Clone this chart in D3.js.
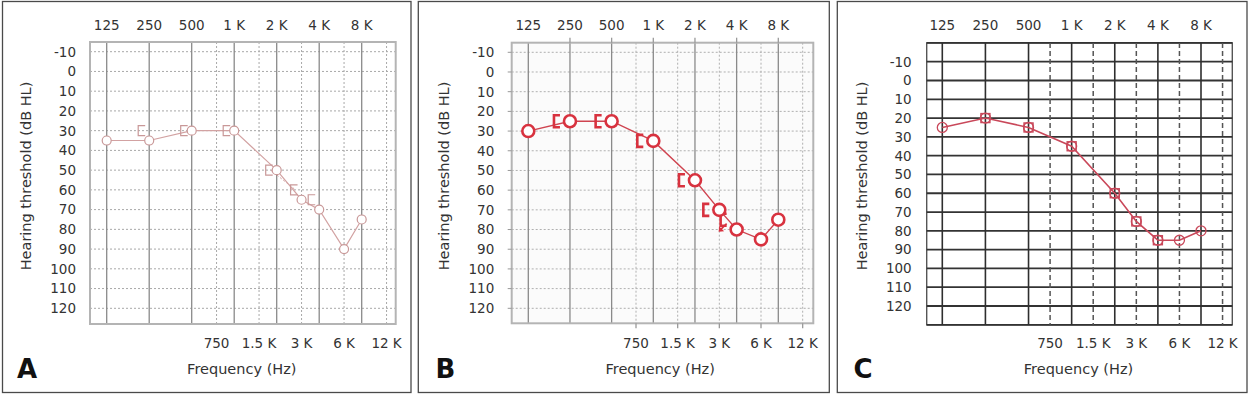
<!DOCTYPE html>
<html><head><meta charset="utf-8">
<script src="https://cdn.jsdelivr.net/npm/d3@7"></script>
<style>body{margin:0;background:#fff}svg{display:block}text{font-family:"DejaVu Sans",sans-serif}</style>
</head><body>
<svg id="chart" width="1249" height="395"></svg>
<script>
// ---- data ----
const octaveFreqs = [125, 250, 500, 1000, 2000, 4000, 8000];
const octaveLabels = ["125", "250", "500", "1 K", "2 K", "4 K", "8 K"];
const midFreqs = [750, 1500, 3000, 6000, 12000];
const midLabels = ["750", "1.5 K", "3 K", "6 K", "12 K"];
const dbTicks = [-10, 0, 10, 20, 30, 40, 50, 60, 70, 80, 90, 100, 110, 120];
const testFreqs = [125, 250, 500, 1000, 2000, 3000, 4000, 6000, 8000];
const boneFreqs = [250, 500, 1000, 2000, 3000, 4000];
const airA = [35, 35, 30, 30, 50, 65, 70, 90, 75];
const boneA = [30, 30, 30, 50, 60, 65];
const airB = [30, 25, 25, 35, 55, 70, 80, 85, 75];
const boneB = [25, 25, 35, 55, 70, 75];
const airC = [25, 20, 25, 35, 60, 75, 85, 85, 80];
const boneC = [20, 25, 35, 60, 75, 85];
const panelLetters = ["A", "B", "C"];
const xTitle = "Frequency (Hz)";
const yTitle = "Hearing threshold (dB HL)";

const svg = d3.select("#chart");

// ---- layouts ----
const panels = [
  {letter: panelLetters[0], air: airA, bone: boneA, style: "A",
   box: [2.5, 1.5, 411, 392.5], fx: [90, 395.7], fy: [42, 324],
   xr: [106.7, 361.7], yr: [51.7, 308.3], tickRight: 76, yTitleX: 25.5, xTitleX: 241.8, letterX: 17},
  {letter: panelLetters[1], air: airB, bone: boneB, style: "B",
   box: [418.3, 1.5, 829.3, 392.5], fx: [511.7, 813.3], fy: [42.7, 323.3],
   xr: [528.3, 778.3], yr: [52.3, 308.3], tickRight: 494.3, yTitleX: 443.3, xTitleX: 660.2, letterX: 435.5},
  {letter: panelLetters[2], air: airC, bone: boneC, style: "C",
   box: [837.3, 1.5, 1247, 392.5], fx: [926.7, 1232.3], fy: null,
   xr: [942.3, 1201], yr: [61.7, 306], tickRight: 911.7, yTitleX: 861.7, xTitleX: 1078.5, letterX: 853.5}
];

panels.forEach(p => {
  const g = svg.append("g");
  // panel border
  g.append("rect").attr("x", p.box[0]).attr("y", p.box[1])
    .attr("width", p.box[2] - p.box[0]).attr("height", p.box[3] - p.box[1])
    .attr("fill", "none").attr("stroke", "#4a4a4a").attr("stroke-width", 1.3);

  let x;
  if (p.style === "C") {
    const lin = d3.scaleLinear().domain([0, 6]).range(p.xr);
    const idx = f => { const l = Math.log2(f / 125); return Math.abs(l - Math.round(l)) < 1e-6 ? l : Math.floor(l) + 0.5; };
    x = f => lin(idx(f));
  } else {
    x = d3.scaleLog().base(2).domain([125, 8000]).range(p.xr);
  }
  const y = d3.scaleLinear().domain([-10, 120]).range(p.yr);
  const fy = p.fy || [y(-20), y(130)];
  const [fx0, fx1] = p.fx;

  // grid
  if (p.style === "C") {
    g.append("rect").attr("x", fx0).attr("y", fy[0]).attr("width", fx1 - fx0).attr("height", fy[1] - fy[0])
      .attr("fill", "#fff").attr("stroke", "#555").attr("stroke-width", 1.4);
    g.selectAll(".hl").data(d3.range(-20, 131, 10)).join("line")
      .attr("x1", fx0).attr("x2", fx1).attr("y1", d => y(d)).attr("y2", d => y(d))
      .attr("stroke", "#333").attr("stroke-width", 1.8);
    g.selectAll(".vo").data(octaveFreqs).join("line")
      .attr("x1", d => x(d)).attr("x2", d => x(d)).attr("y1", fy[0]).attr("y2", fy[1])
      .attr("stroke", "#2e2e2e").attr("stroke-width", 1.6);
    g.selectAll(".vm").data(midFreqs).join("line")
      .attr("x1", d => x(d)).attr("x2", d => x(d)).attr("y1", fy[0]).attr("y2", fy[1])
      .attr("stroke", "#555").attr("stroke-width", 1.5).attr("stroke-dasharray", "5,3");
  } else {
    const gridCol = p.style === "A" ? "#a8a8a8" : "#b0b0b0";
    g.append("rect").attr("x", fx0).attr("y", fy[0]).attr("width", fx1 - fx0).attr("height", fy[1] - fy[0])
      .attr("fill", p.style === "B" ? "#fbfbfb" : "#fff");
    g.selectAll(".hl").data(dbTicks).join("line")
      .attr("x1", fx0).attr("x2", fx1).attr("y1", d => y(d)).attr("y2", d => y(d))
      .attr("stroke", gridCol).attr("stroke-width", 1).attr("stroke-dasharray", "2,2");
    g.selectAll(".vm").data(midFreqs).join("line")
      .attr("x1", d => x(d)).attr("x2", d => x(d)).attr("y1", fy[0]).attr("y2", fy[1])
      .attr("stroke", gridCol).attr("stroke-width", 1).attr("stroke-dasharray", "2,2");
    g.selectAll(".vo").data(octaveFreqs).join("line")
      .attr("x1", d => x(d)).attr("x2", d => x(d)).attr("y1", fy[0]).attr("y2", fy[1])
      .attr("stroke", "#8a8a8a").attr("stroke-width", 1.3);
    g.append("rect").attr("x", fx0).attr("y", fy[0]).attr("width", fx1 - fx0).attr("height", fy[1] - fy[0])
      .attr("fill", "none").attr("stroke", "#b4b4b4").attr("stroke-width", 2);
    if (p.style === "B") {
      g.selectAll(".tt").data(octaveFreqs.slice(1)).join("line")
        .attr("x1", d => x(d)).attr("x2", d => x(d)).attr("y1", fy[0] - 5).attr("y2", fy[0])
        .attr("stroke", "#999").attr("stroke-width", 1.3);
      g.selectAll(".bt").data(midFreqs).join("line")
        .attr("x1", d => x(d)).attr("x2", d => x(d)).attr("y1", fy[1]).attr("y2", fy[1] + 5)
        .attr("stroke", "#999").attr("stroke-width", 1.3);
      g.selectAll(".lt").data(dbTicks).join("line")
        .attr("x1", fx0 - 4).attr("x2", fx0).attr("y1", d => y(d)).attr("y2", d => y(d))
        .attr("stroke", "#999").attr("stroke-width", 1);
    }
  }

  // tick labels
  g.selectAll(".tl").data(octaveFreqs).join("text")
    .attr("x", d => x(d)).attr("y", 30).attr("text-anchor", "middle")
    .attr("font-size", 13.5).attr("fill", "#333")
    .text((d, i) => octaveLabels[i]);
  g.selectAll(".bl").data(midFreqs).join("text")
    .attr("x", d => x(d)).attr("y", 348).attr("text-anchor", "middle")
    .attr("font-size", 13.5).attr("fill", "#333")
    .text((d, i) => midLabels[i]);
  g.selectAll(".yl").data(dbTicks).join("text")
    .attr("x", p.tickRight).attr("y", d => y(d)).attr("dy", "0.36em").attr("text-anchor", "end")
    .attr("font-size", 13.5).attr("fill", "#333")
    .text(d => d);

  // titles
  g.append("text").attr("x", p.xTitleX).attr("y", 373.5).attr("text-anchor", "middle")
    .attr("font-size", 14.5).attr("fill", "#333").text(xTitle);
  g.append("text").attr("transform", `translate(${p.yTitleX},${176}) rotate(-90)`)
    .attr("text-anchor", "middle").attr("dy", "0.36em")
    .attr("font-size", 14.5).attr("fill", "#333").text(yTitle);
  g.append("text").attr("x", p.letterX).attr("y", 377.5)
    .attr("font-family", "Liberation Sans, Arial, sans-serif").attr("font-weight", "bold")
    .attr("font-size", 26).attr("fill", "#111").text(p.letter);

  // data
  const airPts = testFreqs.map((f, i) => [f, p.air[i]]);
  const bonePts = boneFreqs.map((f, i) => [f, p.bone[i]]);
  const line = d3.line().x(d => x(d[0])).y(d => y(d[1]));

  if (p.style === "A") {
    const col = "#d2a2a2";
    g.append("path").datum(bonePts.slice(3, 5)).attr("d", line)
      .attr("fill", "none").attr("stroke", col).attr("stroke-width", 1).attr("stroke-dasharray", "2,2")
      .attr("transform", "translate(-6,0)");
    g.append("path").datum(airPts).attr("d", line)
      .attr("fill", "none").attr("stroke", col).attr("stroke-width", 1.2);
    g.selectAll(".br").data(bonePts).join("path")
      .attr("d", d => { const cx = x(d[0]) - 4, cy = y(d[1]); return `M${cx},${cy - 5}H${cx - 7}V${cy + 5}H${cx}`; })
      .attr("fill", "none").attr("stroke", "#c99898").attr("stroke-width", 1.2);
    g.selectAll(".ci").data(airPts).join("circle")
      .attr("cx", d => x(d[0])).attr("cy", d => y(d[1])).attr("r", 4.5)
      .attr("fill", "#fff").attr("stroke", "#c99898").attr("stroke-width", 1.2);
  } else if (p.style === "B") {
    const col = "#d8323f";
    g.append("path").datum(airPts).attr("d", line)
      .attr("fill", "none").attr("stroke", "#cf4450").attr("stroke-width", 1.4);
    g.selectAll(".br").data(bonePts).join("path")
      .attr("d", d => { const cx = x(d[0]) - 10, cy = y(d[1]); return `M${cx},${cy - 6}H${cx - 6}V${cy + 6}H${cx}`; })
      .attr("fill", "none").attr("stroke", col).attr("stroke-width", 2.6);
    // arrow below the highest bone-conduction mark
    const last = bonePts[bonePts.length - 1];
    const ax = x(last[0]) - 10, ay = y(last[1]) + 4;
    g.append("path").attr("d", `M${ax},${ay}L${ax - 6},${ay + 6}`)
      .attr("stroke", col).attr("stroke-width", 1.6);
    g.append("path").attr("d", `M${ax - 8},${ay + 8}L${ax - 7.5},${ay + 2.5}L${ax - 2.5},${ay + 7.5}Z`)
      .attr("fill", col);
    g.selectAll(".ci").data(airPts).join("circle")
      .attr("cx", d => x(d[0])).attr("cy", d => y(d[1])).attr("r", 6)
      .attr("fill", "#fff").attr("stroke", col).attr("stroke-width", 2.6);
  } else {
    const col = "#c9485a";
    g.append("path").datum(airPts).attr("d", line)
      .attr("fill", "none").attr("stroke", col).attr("stroke-width", 1.6);
    g.selectAll(".sq").data(bonePts).join("rect")
      .attr("x", d => x(d[0]) - 4.5).attr("y", d => y(d[1]) - 4.5).attr("width", 9).attr("height", 9)
      .attr("fill", "none").attr("stroke", col).attr("stroke-width", 1.4);
    g.selectAll(".ci").data(airPts).join("circle")
      .attr("cx", d => x(d[0])).attr("cy", d => y(d[1])).attr("r", 5)
      .attr("fill", "none").attr("stroke", col).attr("stroke-width", 1.3);
  }
});
</script>
</body></html>
